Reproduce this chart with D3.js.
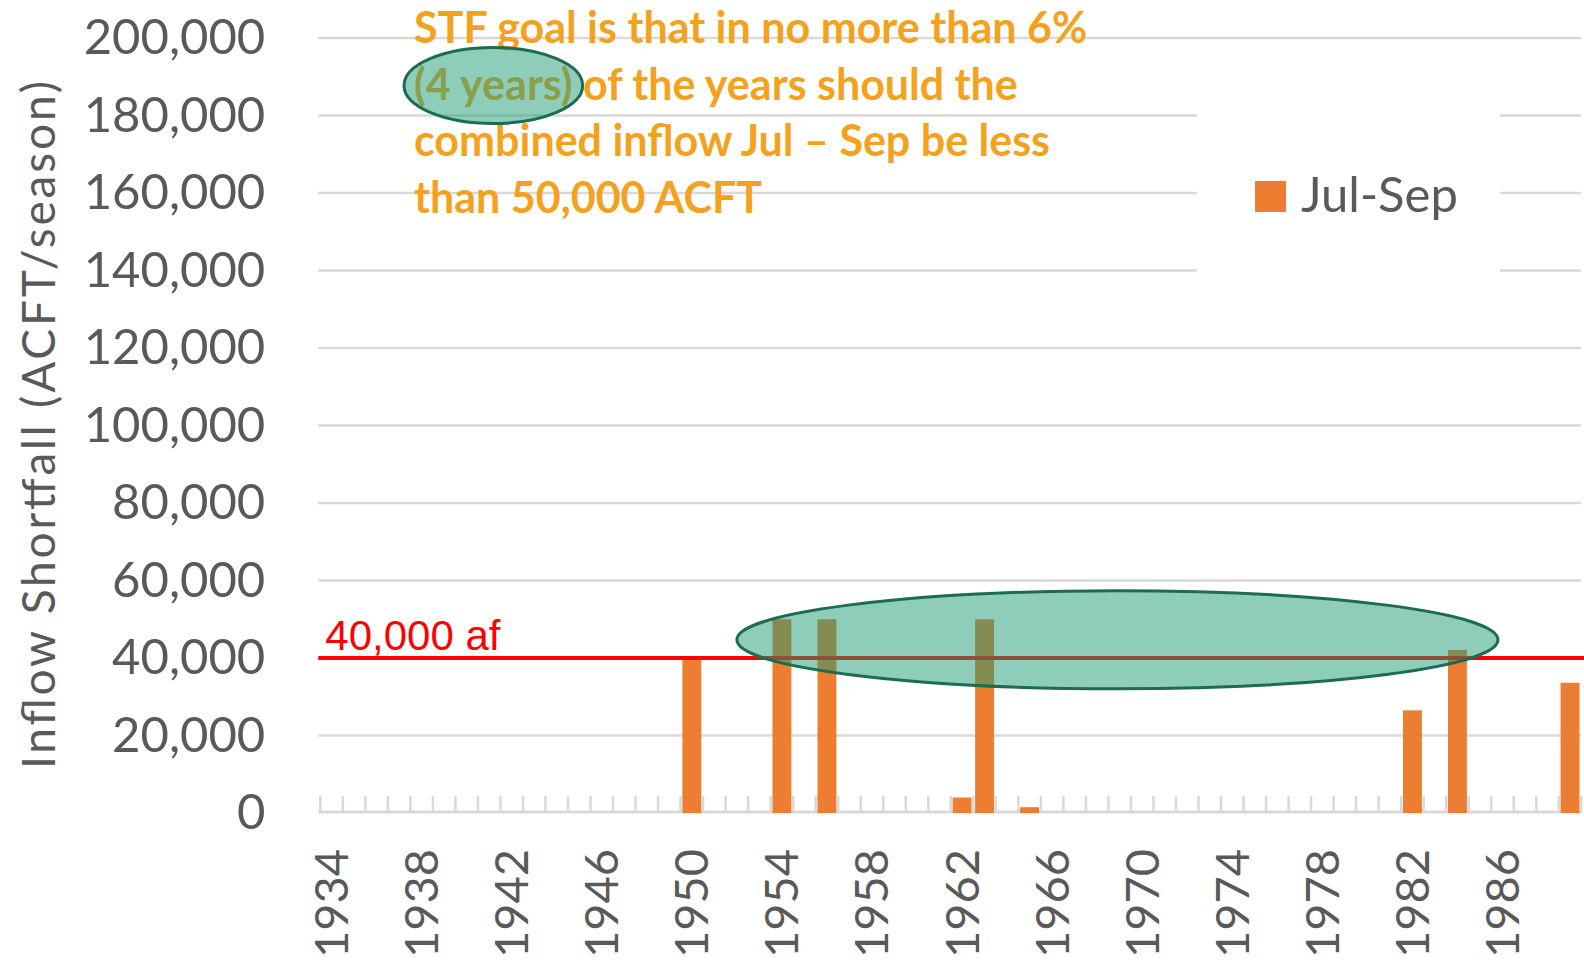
<!DOCTYPE html>
<html>
  <head>
    <meta charset="utf-8">
    <title>Inflow shortfall Jul-Sep</title>
    <script src="https://d3js.org/d3.v7.min.js"></script>
    <style>
      body { margin: 0; background: #fff; }
      svg { display: block; }
      text { font-family: Lato, "Open Sans", sans-serif; }
    </style>
  </head>
  <body>
    <svg id="chart" width="1584" height="964"></svg>
    <script>
      // chart data
      const years = d3.range(1934, 1990);
      const shortfallYears = [1950, 1954, 1956, 1962, 1963, 1965, 1982, 1984, 1989];
      const shortfallValues = [40300, 50000, 50000, 4000, 50000, 1500, 26500, 42100, 33600];
      const yTicks = [0, 20000, 40000, 60000, 80000, 100000, 120000, 140000, 160000, 180000, 200000];
      const xTickLabels = ["1934", "1938", "1942", "1946", "1950", "1954", "1958", "1962", "1966", "1970", "1974", "1978", "1982", "1986"];
      const threshold = 40000;
      const thresholdLabel = "40,000 af";
      const seriesName = "Jul-Sep";
      const yTitle = "Inflow Shortfall (ACFT/season)";
      const noteLines = [
        "STF goal is that in no more than 6%",
        "(4 years) of the years should the",
        "combined inflow Jul \u2013 Sep be less",
        "than 50,000 ACFT"
      ];
      const noteHighlight = "(4 years)";
      // highlighted region of the chart: years and values
      const circled = { year: 1968.9, halfYears: 16.9, value: 44700, halfValue: 12650 };

      const svg = d3.select("#chart");
      const grey = "#595959";
      const gridColour = "#d9d9d9";
      const orange = "#ed7d31";
      const noteColour = "#f4a21e";
      const ringFill = "rgba(29,155,115,0.5)";
      const ringStroke = "#1c6b52";

      const margin = { top: 38, right: 2.7, bottom: 151, left: 320.3 };
      const width = 1584, height = 964;

      const x = d3.scaleBand()
        .domain(years)
        .range([margin.left, width - margin.right])
        .paddingInner(0.16)
        .paddingOuter(0.08);
      // continuous version of the year axis, for annotations
      const xYear = d3.scaleLinear()
        .domain([years[0] - 0.5, years[years.length - 1] + 0.5])
        .range([margin.left, width - margin.right]);
      const y = d3.scaleLinear()
        .domain([0, 200000])
        .range([height - margin.bottom, margin.top]);

      // gridlines
      svg.append("g")
        .selectAll("line")
          .data(yTicks.filter(d => d > 0))
        .enter().append("line")
          .attr("x1", margin.left - 2)
          .attr("x2", width - margin.right)
          .attr("y1", d => y(d))
          .attr("y2", d => y(d))
          .attr("stroke", gridColour)
          .attr("stroke-width", 2.5);

      // y axis labels
      const yAxis = svg.append("g")
        .attr("transform", "translate(" + margin.left + ",0)")
        .call(d3.axisLeft(y).tickValues(yTicks).tickFormat(d3.format(",")).tickSize(0).tickPadding(55));
      yAxis.select(".domain").remove();
      yAxis.selectAll("text")
        .attr("fill", grey)
        .style("font-size", "49px")
        .style("font-family", "Lato, sans-serif");

      // x axis: base line, category boundary ticks, rotated labels
      const baseY = y(0) - 1;
      svg.append("line")
        .attr("x1", margin.left - 2)
        .attr("x2", width - margin.right)
        .attr("y1", baseY)
        .attr("y2", baseY)
        .attr("stroke", gridColour)
        .attr("stroke-width", 3);
      svg.append("g")
        .selectAll("line")
          .data(years.concat([years[years.length - 1] + 1]))
        .enter().append("line")
          .attr("x1", d => xYear(d - 0.5))
          .attr("x2", d => xYear(d - 0.5))
          .attr("y1", baseY)
          .attr("y2", baseY - 16)
          .attr("stroke", gridColour)
          .attr("stroke-width", 2.5);
      const xAxis = svg.append("g")
        .attr("transform", "translate(0," + baseY + ")")
        .call(d3.axisBottom(x).tickValues(xTickLabels.map(Number)).tickSize(0));
      xAxis.select(".domain").remove();
      xAxis.selectAll("text")
        .attr("fill", grey)
        .style("font-size", "47px")
        .style("font-family", "Lato, sans-serif")
        .attr("text-anchor", "end")
        .attr("dy", "0.35em")
        .attr("transform", "translate(0,37) rotate(-90)")
        .attr("y", 0)
        .attr("x", 0);

      // bars
      const bars = shortfallYears.map((yr, i) => ({ year: yr, value: shortfallValues[i] }));
      svg.append("g")
        .selectAll("rect")
          .data(bars)
        .enter().append("rect")
          .attr("x", d => x(d.year))
          .attr("y", d => y(d.value))
          .attr("width", x.bandwidth())
          .attr("height", d => y(0) - y(d.value))
          .attr("fill", orange);

      // threshold line and label
      svg.append("line")
        .attr("x1", margin.left - 2)
        .attr("x2", width)
        .attr("y1", y(threshold))
        .attr("y2", y(threshold))
        .attr("stroke", "#ff0000")
        .attr("stroke-width", 4);
      svg.append("text")
        .attr("x", margin.left + 5)
        .attr("y", y(threshold) - 8)
        .attr("fill", "#ff0000")
        .style("font-family", "'Liberation Sans', Arial, sans-serif")
        .style("font-size", "42px")
        .text(thresholdLabel);

      // ring over the years near the line
      svg.append("ellipse")
        .attr("cx", xYear(circled.year))
        .attr("cy", y(circled.value))
        .attr("rx", xYear(circled.year + circled.halfYears) - xYear(circled.year))
        .attr("ry", y(circled.value - circled.halfValue) - y(circled.value))
        .attr("fill", ringFill)
        .attr("stroke", ringStroke)
        .attr("stroke-width", 3);

      // goal note
      const noteX = 414, noteY = 43, noteGap = 56.5;
      const note = svg.append("g");
      note.selectAll("text")
          .data(noteLines)
        .enter().append("text")
          .attr("x", noteX)
          .attr("y", (d, i) => noteY + i * noteGap)
          .attr("fill", noteColour)
          .style("font-weight", "bold")
          .style("font-size", "43px")
          .text(d => d);
      const hiLine = note.selectAll("text").filter((d, i) => i == 1).node();
      const hiLen = hiLine.getSubStringLength(0, noteHighlight.length);
      svg.append("ellipse")
        .attr("cx", noteX + hiLen / 2)
        .attr("cy", noteY + noteGap - 14)
        .attr("rx", hiLen / 2 + 10)
        .attr("ry", 38)
        .attr("fill", ringFill)
        .attr("stroke", ringStroke)
        .attr("stroke-width", 3);

      // legend
      const legend = svg.append("g").attr("transform", "translate(1197,100)");
      legend.append("rect")
        .attr("width", 303)
        .attr("height", 185)
        .attr("fill", "#fff");
      legend.append("rect")
        .attr("x", 58)
        .attr("y", 81)
        .attr("width", 31)
        .attr("height", 31)
        .attr("fill", orange);
      legend.append("text")
        .attr("x", 104)
        .attr("y", 112)
        .attr("fill", grey)
        .style("font-size", "49px")
        .text(seriesName);

      // y axis title
      svg.append("text")
        .attr("transform", "translate(55,425) rotate(-90)")
        .attr("text-anchor", "middle")
        .attr("fill", grey)
        .attr("textLength", 688)
        .attr("lengthAdjust", "spacing")
        .style("font-size", "46px")
        .text(yTitle);
    </script>
  </body>
</html>
